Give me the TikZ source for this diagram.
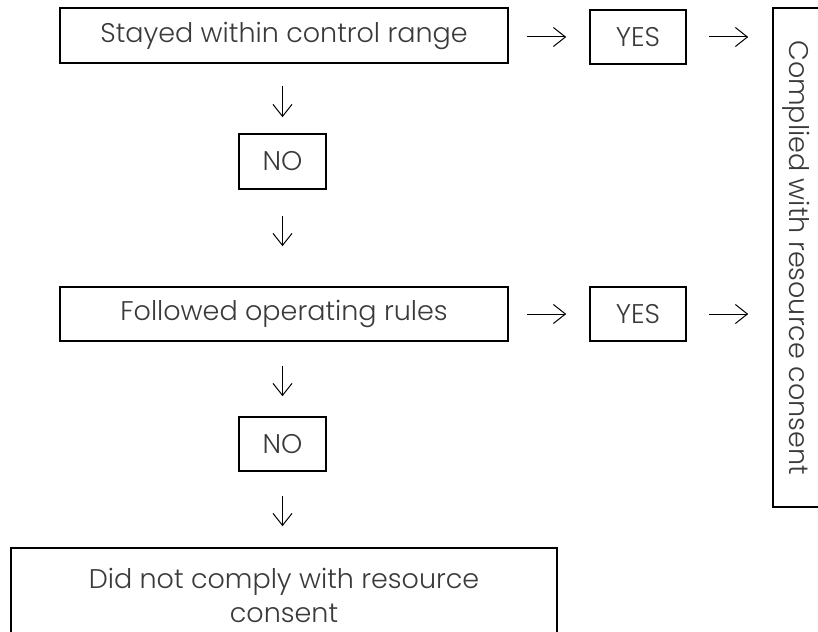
\documentclass[tikz,border=0pt]{standalone}
\usepackage{fontspec}
\setmainfont{Poppins Light}
\usetikzlibrary{arrows.meta}
\definecolor{txtgray}{HTML}{3A3A3A}
\begin{document}
\begin{tikzpicture}[x=1pt,y=-1pt,
decbox/.style={draw,rectangle,line width=1.6pt,text=txtgray,font=\fontsize{27}{34}\selectfont,inner sep=0pt},
arr/.style={-{Straight Barb[length=12pt,width=19pt,line width=1pt]},line width=1pt}]

\useasboundingbox (0,0) rectangle (818,631);

\node[decbox,minimum width=448pt,minimum height=55pt] (stay) at (284,35.5) {Stayed within control range};
\node[decbox,minimum width=96pt,minimum height=54pt] (yes1) at (638,37) {YES};
\node[decbox,minimum width=87pt,minimum height=55pt] (no1) at (282.5,161.5) {NO};
\node[decbox,minimum width=448pt,minimum height=54pt] (follow) at (284,314) {Followed operating rules};
\node[decbox,minimum width=96pt,minimum height=54pt] (yes2) at (638,314) {YES};
\node[decbox,minimum width=87pt,minimum height=54pt] (no2) at (282.5,444) {NO};
\node[decbox,minimum width=546pt,minimum height=94pt,align=center] (notcomp) at (284,595) {Did not comply with resource\\consent};
\node[decbox,minimum width=499pt,minimum height=47pt,rotate=-90] (comp) at (796.5,257.5) {Complied with resource consent};

% yes branch
\draw[arr,shorten <=18pt,shorten >=23pt] (stay.east |- yes1) -- (yes1.west);
\draw[arr,shorten <=22pt,shorten >=24pt] (yes1.east) -- (yes1.east -| comp.south);
\draw[arr,shorten <=18pt,shorten >=23pt] (follow.east) -- (yes2.west);
\draw[arr,shorten <=22pt,shorten >=24pt] (yes2.east) -- (yes2.east -| comp.south);

% no branch
\draw[arr,shorten <=22pt,shorten >=16pt] (no1.north |- stay.south) -- (no1.north);
\draw[arr,shorten <=26pt,shorten >=40pt] (no1.south) -- (no1.south |- follow.north);
\draw[arr,shorten <=24pt,shorten >=20pt] (no1.south |- follow.south) -- (no2.north);
\draw[arr,shorten <=24pt,shorten >=21pt] (no2.south) -- (no2.south |- notcomp.north);

\end{tikzpicture}
\end{document}
